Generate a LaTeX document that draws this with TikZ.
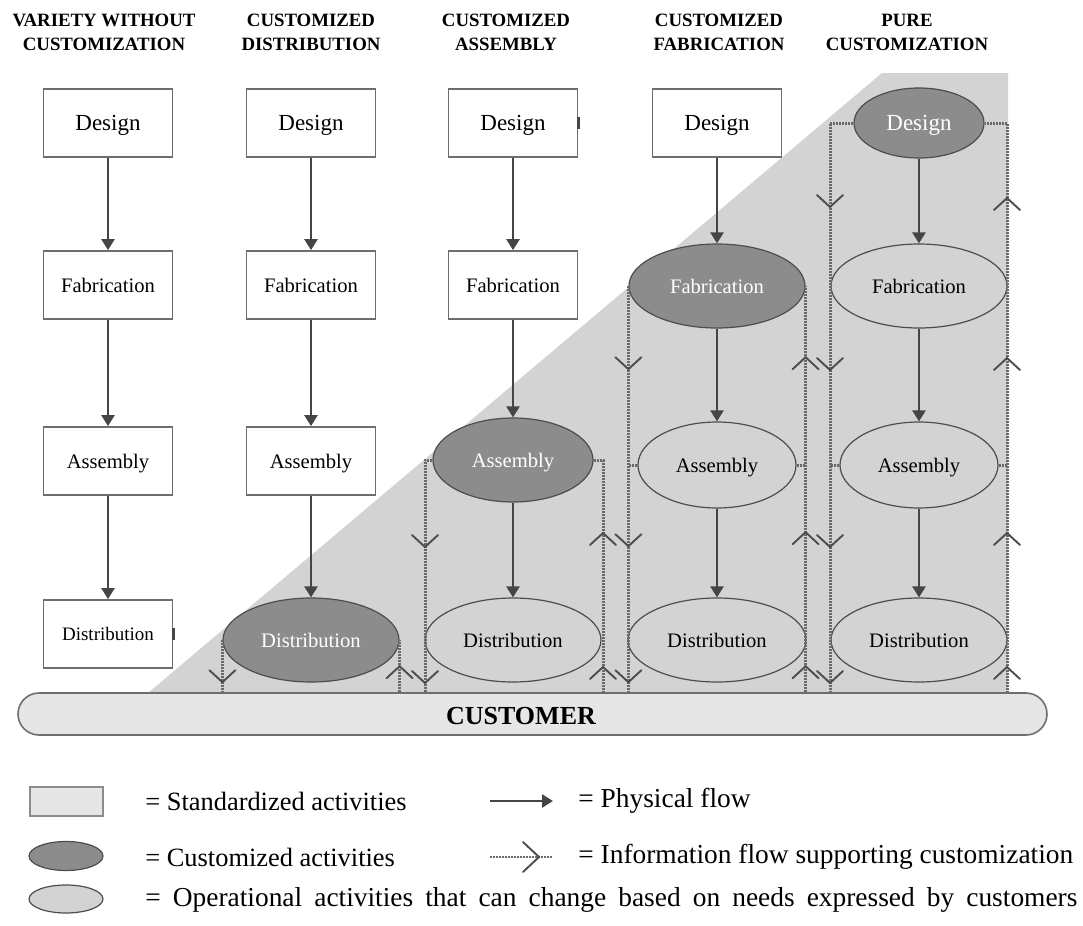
\documentclass[tikz,border=0pt]{standalone}
\usepackage{fontspec}
\setmainfont{Liberation Serif}
\usetikzlibrary{arrows.meta,decorations.markings,shapes.geometric}

\definecolor{bgshade}{HTML}{D3D3D3}
\definecolor{custfill}{HTML}{8C8C8C}
\definecolor{opfill}{HTML}{D3D3D3}
\definecolor{edge}{HTML}{4D4D4D}
\definecolor{boxedge}{HTML}{6E6E6E}
\definecolor{flow}{HTML}{454545}
\definecolor{infocol}{HTML}{6A6A6A}
\definecolor{barfill}{HTML}{E6E6E6}

% open chevrons placed on information-flow lines
\newcommand\chevronmark{\draw[chev] (-6pt,-6.5pt) -- (0pt,0pt) -- (-6pt,6.5pt);}
\newcommand\chevronlarge{\draw[chev] (-8pt,-7.5pt) -- (0pt,0pt) -- (-8pt,7.5pt);}

\tikzset{
  x=0.5pt, y=-0.5pt,
  stdbox/.style={rectangle, draw=boxedge, line width=0.9pt, fill=white,
    minimum width=64.5pt, minimum height=34pt, inner sep=0pt, text depth=0pt,
    font=\fontsize{10.3pt}{12pt}\selectfont},
  ellbase/.style={ellipse, draw=edge, line width=0.6pt, inner sep=0pt, text depth=0pt,
    font=\fontsize{10.3pt}{12pt}\selectfont},
  custact/.style={ellbase, fill=custfill, text=white},
  opact/.style={ellbase, fill=opfill},
  esize/.style 2 args={minimum width=#1pt, minimum height=#2pt},
  phys/.style={draw=flow, line width=1.25pt, -{Triangle[length=5.5pt,width=6.5pt]}},
  info/.style={draw=infocol, line width=1.5pt, dash pattern=on 1pt off 0.5pt},
  chev/.style={draw=edge, line width=0.95pt, solid, line cap=round, line join=miter},
  chev at/.style={postaction={decorate, decoration={markings,
    mark=at position #1 with {\chevronmark}}}},
  chev large at/.style={postaction={decorate, decoration={markings,
    mark=at position #1 with {\chevronlarge}}}},
  header/.style={align=center, inner sep=0pt,
    font=\bfseries\fontsize{9.4pt}{12pt}\selectfont},
  legtext/.style={anchor=west, inner sep=0pt, font=\fontsize{13.2pt}{15pt}\selectfont},
  legtextwide/.style={anchor=west, inner sep=0pt, font=\fontsize{13.7pt}{15pt}\selectfont},
  custbar/.style={rectangle, rounded corners=10.5pt, draw=boxedge, line width=0.8pt,
    fill=barfill, minimum width=514.5pt, minimum height=21pt, inner sep=0pt},
  tab/.style={draw=flow, line width=1.6pt},
}

\begin{document}
\begin{tikzpicture}
\useasboundingbox (0,0) rectangle (1083,926);

% shaded region of customer-driven activities
\fill[bgshade] (148,693) -- (882,73) -- (1008,73) -- (1008,693) -- cycle;

% customer bar
\node[custbar] (customer) at (532.5,714) {};
\node[inner sep=0pt, font=\bfseries\fontsize{13pt}{13pt}\selectfont] (custlabel) at (521,716) {CUSTOMER};

% column headings
\node[header] (h1) at (104,32) {VARIETY WITHOUT\\CUSTOMIZATION};
\node[header] (h2) at (311,32) {CUSTOMIZED\\DISTRIBUTION};
\node[header] (h3) at (506,32) {CUSTOMIZED\\ASSEMBLY};
\node[header] (h4) at (719,32) {CUSTOMIZED\\FABRICATION};
\node[header] (h5) at (907,32) {PURE\\CUSTOMIZATION};

% column 1: variety without customization
\node[stdbox, font=\fontsize{11.5pt}{12pt}\selectfont] (des1) at (108,123) {Design};
\node[stdbox] (fb1) at (108,285) {Fabrication};
\node[stdbox] (as1) at (108,461) {Assembly};
\node[stdbox, font=\fontsize{9.5pt}{12pt}\selectfont] (ds1) at (108,634) {Distribution};

% column 2: customized distribution
\node[stdbox, font=\fontsize{11.5pt}{12pt}\selectfont] (des2) at (311,123) {Design};
\node[stdbox] (fb2) at (311,285) {Fabrication};
\node[stdbox] (as2) at (311,461) {Assembly};
\node[custact, esize={88}{42}] (d2) at (311,640) {Distribution};

% column 3: customized assembly
\node[stdbox, font=\fontsize{11.5pt}{12pt}\selectfont] (des3) at (513,123) {Design};
\node[stdbox] (fb3) at (513,285) {Fabrication};
\node[custact, esize={80}{42}] (a3) at (513,460) {Assembly};
\node[opact, esize={88}{42}] (d3) at (513,640) {Distribution};

% column 4: customized fabrication
\node[stdbox, font=\fontsize{11.5pt}{12pt}\selectfont] (des4) at (717,123) {Design};
\node[custact, esize={88}{42}] (f4) at (717,286) {Fabrication};
\node[opact, esize={79}{43}] (a4) at (717,465) {Assembly};
\node[opact, esize={89}{42}] (d4) at (717,640) {Distribution};

% column 5: pure customization
\node[custact, esize={65}{35}, font=\fontsize{11.5pt}{12pt}\selectfont] (des5) at (919,123) {Design};
\node[opact, esize={88}{42}] (f5) at (919,286) {Fabrication};
\node[opact, esize={79}{43}] (a5) at (919,465) {Assembly};
\node[opact, esize={88}{42}] (d5) at (919,640) {Distribution};

% small tabs on box borders
\draw[tab] ([yshift=3pt]des3.east) -- ([yshift=-3pt]des3.east);
\draw[tab] ([yshift=3pt]ds1.east) -- ([yshift=-3pt]ds1.east);

% information flows
\coordinate (c3l) at (425,693);
\coordinate (c3r) at (603,693);
\coordinate (c5l) at (830,693);
\coordinate (c5r) at (1007,693);

\draw[info, chev at=-5pt] (d2.west) -- (d2.west |- customer.north);
\draw[info, chev at=13pt] (d2.east |- customer.north) -- (d2.east);

\draw[info, chev at=-5pt, chev at=-73pt] (a3.west) -| (c3l);
\draw[info, chev at=13pt, chev at=80pt] (c3r) |- (a3.east);

\draw[info, chev at=-5pt, chev at=-73pt, chev at=-161.5pt] (f4.west) -- (f4.west |- customer.north);
\draw[info, chev at=13pt, chev at=80pt, chev at=167.5pt] (f4.east |- customer.north) -- (f4.east);
\draw[info] (a4.west) -- (a4.west -| f4.west);
\draw[info] (a4.east) -- (a4.east -| f4.east);

\draw[info, chev at=-5pt, chev at=-73pt, chev at=-161.5pt, chev at=-243pt] (des5.west) -| (c5l);
\draw[info, chev at=13pt, chev at=80pt, chev at=167.5pt, chev at=247.5pt] (c5r) |- (des5.east);
\draw[info] (a5.west) -- (a5.west -| c5l);
\draw[info] (a5.east) -- (a5.east -| c5r);

% physical flows
\draw[phys] (des1) -- (fb1);
\draw[phys] (fb1) -- (as1);
\draw[phys] (as1) -- (ds1);
\draw[phys] (des2) -- (fb2);
\draw[phys] (fb2) -- (as2);
\draw[phys] (as2) -- (d2);
\draw[phys] (des3) -- (fb3);
\draw[phys] (fb3) -- (a3);
\draw[phys] (a3) -- (d3);
\draw[phys] (des4) -- (f4);
\draw[phys] (f4) -- (a4);
\draw[phys] (a4) -- (d4);
\draw[phys] (des5) -- (f5);
\draw[phys] (f5) -- (a5);
\draw[phys] (a5) -- (d5);

% legend
\node[rectangle, draw=boxedge!80, line width=1pt, fill=barfill,
  minimum width=36.5pt, minimum height=14.5pt, inner sep=0pt] (lstd) at (66,801) {};
\node[custact, esize={37}{14.5}] (lcust) at (66,856) {};
\node[ellbase, fill=opfill, esize={37}{14}] (lop) at (66,899) {};
\node[legtext] (tstd) at (145,801) {= Standardized activities};
\node[legtext] (tcust) at (145,857) {= Customized activities};
\node[legtextwide] (top) at (145,900)
  {\makebox[466pt][s]{= Operational activities that can change based on needs expressed by customers}};

\coordinate (lp1) at (490,801);
\coordinate (lp2) at (553,801);
\coordinate (li1) at (490,857);
\coordinate (li2) at (553,857);
\draw[phys] (lp1) -- (lp2);
\draw[info, line width=1.3pt, chev large at=24.5pt] (li1) -- (li2);
\node[legtextwide] (tphys) at (578,801) {= Physical flow};
\node[legtextwide] (tinfo) at (578,857) {= Information flow supporting customization};
\end{tikzpicture}
\end{document}
